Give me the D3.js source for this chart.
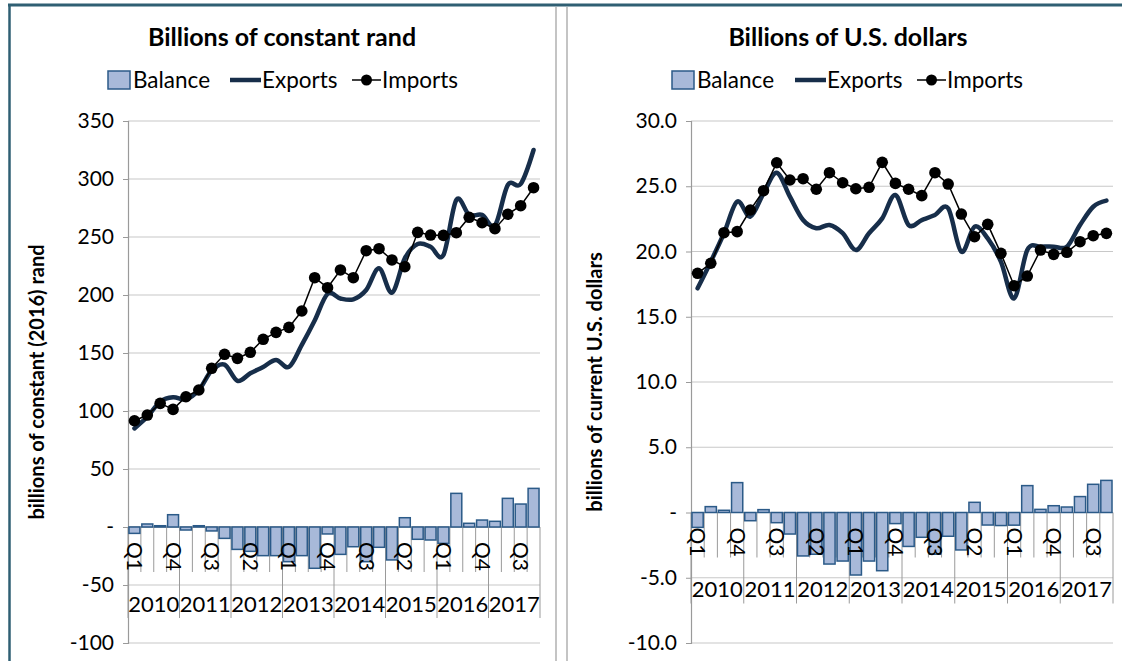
<!DOCTYPE html>
<html><head><meta charset="utf-8">
<script src="https://cdn.jsdelivr.net/npm/d3@7"></script>
<style>
body{margin:0;background:#fff}
svg{display:block}
text{font-family:Lato,"Open Sans",sans-serif;fill:#000}
</style>
</head><body>
<svg id="c" width="1122" height="661"></svg>
<script>
const quarters = ["Q1","Q2","Q3","Q4","Q1","Q2","Q3","Q4","Q1","Q2","Q3","Q4","Q1","Q2","Q3","Q4",
                  "Q1","Q2","Q3","Q4","Q1","Q2","Q3","Q4","Q1","Q2","Q3","Q4","Q1","Q2","Q3","Q4"];
const years = ["2010","2011","2012","2013","2014","2015","2016","2017"];

const randImports = [91.6,96.5,106.6,101.4,112.3,118.1,136.8,148.9,145.4,150.6,161.8,167.8,172.1,186.2,214.9,206.3,
                     221.6,214.9,238.2,239.9,230.2,224.4,254.0,251.7,251.4,253.7,267.0,262.3,257.2,269.6,277.0,292.5];
const randExports = [85,95,108,111.8,110,118,135,140,126,132.5,138,144,138,157,178,201,
                     197,196.3,204.3,223,202,231.6,244,241.6,234.5,281.9,269,269,260,294.8,295.7,325];
const randBalance = [-5.5,2.6,1.1,10.6,-2.6,1.1,-3.4,-9.8,-19.3,-21,-24.7,-24.7,-29.9,-24.7,-35.6,-6.0,
                     -23.6,-17.0,-29.9,-17.5,-28.4,8.0,-10.6,-11.2,-14.1,29.0,3.2,6.0,4.9,24.7,19.8,33.3];
const randTicks = [350,300,250,200,150,100,50,0,-50,-100];

const usdImports = [18.33,19.1,21.44,21.52,23.18,24.66,26.8,25.48,25.58,24.77,26.04,25.27,24.81,24.92,26.83,25.22,
                    24.77,24.28,26.04,25.17,22.87,21.13,22.08,19.86,17.38,18.12,20.11,19.78,19.94,20.75,21.21,21.39];
const usdExports = [17.18,19.22,21.4,23.82,22.67,24.46,26.04,24.2,22.41,21.78,22.03,21.4,20.11,21.4,22.54,24.33,
                    22.03,22.41,22.8,23.31,19.98,21.9,21.0,19.22,16.41,20.11,20.37,20.37,20.37,22.03,23.43,23.9];
const usdBalance = [-1.14,0.45,0.17,2.29,-0.63,0.22,-0.78,-1.65,-3.33,-3.2,-3.95,-3.72,-4.79,-3.72,-4.46,-0.85,
                    -2.6,-1.9,-3.2,-1.82,-2.87,0.78,-0.96,-1.0,-0.97,2.06,0.24,0.52,0.42,1.22,2.16,2.46];
const usdTicks = [30,25,20,15,10,5,0,-5,-10];

const titles = ["Billions of constant rand","Billions of U.S. dollars"];
const yTitles = ["billions of constant (2016) rand","billions of current U.S. dollars"];
const legendLabels = ["Balance","Exports","Imports"];

const BAR_FILL = "#a8b9d9", BAR_STROKE = "#2b5a88", EXP = "#172e4a", GRID = "#c8c8c8", AXIS = "#9a9a9a";

const svg = d3.select("#c");

// frame
svg.append("line").attr("x1",8).attr("x2",1122).attr("y1",5).attr("y2",5).attr("stroke","#2f5f73").attr("stroke-width",3);
svg.append("line").attr("x1",9.5).attr("x2",9.5).attr("y1",4).attr("y2",661).attr("stroke","#2f5f73").attr("stroke-width",2.5);
svg.append("line").attr("x1",556).attr("x2",556).attr("y1",7).attr("y2",661).attr("stroke","#b0b0b0").attr("stroke-width",1.5);
svg.append("line").attr("x1",567).attr("x2",567).attr("y1",7).attr("y2",661).attr("stroke","#b0b0b0").attr("stroke-width",1.5);

function chart(cfg){
  const g = svg.append("g");
  const n = cfg.imports.length;
  const x = d3.scaleBand().domain(d3.range(n)).range([cfg.x0,cfg.x1]).paddingInner(0.15).paddingOuter(0.075);
  const y = d3.scaleLinear().domain(cfg.domain).range([cfg.y1,cfg.y0]);
  const step = x.step();
  const zy = y(0);
  const cx = i => x(i) + x.bandwidth()/2;

  // gridlines
  g.append("g").selectAll("line").data(cfg.ticks).join("line")
    .attr("x1",cfg.x0).attr("x2",cfg.x1).attr("y1",d=>y(d)).attr("y2",d=>y(d))
    .attr("stroke",GRID).attr("stroke-width",1.2);

  // y axis
  const ya = d3.axisLeft(y).tickValues(cfg.ticks).tickSize(5).tickPadding(9)
    .tickFormat(d => d === 0 ? "-" : cfg.fmt(d).replace("\u2212","-"));
  const yg = g.append("g").attr("transform",`translate(${cfg.x0},0)`).call(ya);
  yg.select(".domain").attr("stroke",AXIS).attr("stroke-width",1.2);
  yg.selectAll(".tick line").attr("stroke",AXIS);
  yg.selectAll(".tick text").attr("font-size",21).attr("font-family","Lato");

  // category axis separators
  const qb = d3.range(n+1);
  g.append("g").selectAll("line").data(qb).join("line")
    .attr("x1",i=>cfg.x0+step*i).attr("x2",i=>cfg.x0+step*i)
    .attr("y1",zy).attr("y2",i=> i%4===0 ? zy+91 : zy+45)
    .attr("stroke",AXIS).attr("stroke-width",1);
  g.append("line").attr("x1",cfg.x0).attr("x2",cfg.x1).attr("y1",zy).attr("y2",zy)
    .attr("stroke",AXIS).attr("stroke-width",1.2);

  // bars
  g.append("g").selectAll("rect").data(cfg.balance).join("rect")
    .attr("x",(d,i)=>x(i)).attr("width",x.bandwidth())
    .attr("y",d=>Math.min(y(d),zy)).attr("height",d=>Math.abs(y(d)-zy))
    .attr("fill",BAR_FILL).attr("stroke",BAR_STROKE).attr("stroke-width",1.5);

  // quarter labels
  g.append("g").selectAll("text").data(quarters.map((q,i)=>({q,i})).filter(d=>d.i%3===0)).join("text")
    .attr("transform",d=>`translate(${cx(d.i)},${zy+44}) rotate(90)`)
    .attr("text-anchor","end").attr("dy","0.36em").attr("font-size",21).text(d=>d.q);

  // year labels
  g.append("g").selectAll("text").data(years).join("text")
    .attr("x",(d,k)=>cfg.x0+step*(4*k+2)).attr("y",zy+77).attr("dy","0.36em")
    .attr("text-anchor","middle").attr("font-size",22).text(d=>d);

  // exports line
  const lineE = d3.line().x((d,i)=>cx(i)).y(d=>y(d)).curve(d3.curveCardinal.tension(0));
  g.append("path").datum(cfg.exports).attr("d",lineE).attr("fill","none")
    .attr("stroke",EXP).attr("stroke-width",4.5).attr("stroke-linejoin","round").attr("stroke-linecap","round");

  // imports line + markers
  const lineI = d3.line().x((d,i)=>cx(i)).y(d=>y(d));
  g.append("path").datum(cfg.imports).attr("d",lineI).attr("fill","none").attr("stroke","#000").attr("stroke-width",1.5);
  g.append("g").selectAll("circle").data(cfg.imports).join("circle")
    .attr("cx",(d,i)=>cx(i)).attr("cy",d=>y(d)).attr("r",5.8).attr("fill","#000");

  // titles
  g.append("text").attr("x",cfg.titleX).attr("y",46).attr("text-anchor","middle")
    .attr("font-size",25).attr("font-weight","bold").text(cfg.title);
  g.append("text").attr("transform",`translate(${cfg.yTitleX},${(cfg.y0+cfg.y1)/2}) rotate(-90)`)
    .attr("text-anchor","middle").attr("font-size",20).attr("font-weight","bold").text(cfg.yTitle);

  // legend
  const L = cfg.legend;
  const lg = g.append("g").attr("font-size",22.5);
  lg.append("rect").attr("x",L[0]).attr("y",71).attr("width",22).attr("height",18)
    .attr("fill",BAR_FILL).attr("stroke",BAR_STROKE).attr("stroke-width",1.5);
  lg.append("text").attr("x",L[0]+25).attr("y",80).attr("dy","0.36em").text(legendLabels[0]);
  lg.append("line").attr("x1",L[1]).attr("x2",L[1]+31).attr("y1",80).attr("y2",80)
    .attr("stroke",EXP).attr("stroke-width",4.5);
  lg.append("text").attr("x",L[1]+32).attr("y",80).attr("dy","0.36em").text(legendLabels[1]);
  lg.append("line").attr("x1",L[2]).attr("x2",L[2]+29).attr("y1",80).attr("y2",80)
    .attr("stroke","#000").attr("stroke-width",1.5);
  lg.append("circle").attr("cx",L[2]+14.5).attr("cy",80).attr("r",5.5).attr("fill","#000");
  lg.append("text").attr("x",L[2]+30).attr("y",80).attr("dy","0.36em").text(legendLabels[2]);
}

chart({x0:128,x1:540,y0:121,y1:643,domain:[-100,350],ticks:randTicks,fmt:d3.format("d"),
  imports:randImports,exports:randExports,balance:randBalance,
  title:titles[0],titleX:282,yTitle:yTitles[0],yTitleX:44,legend:[108,230,352]});
chart({x0:691,x1:1113,y0:121,y1:643,domain:[-10,30],ticks:usdTicks,fmt:d3.format(".1f"),
  imports:usdImports,exports:usdExports,balance:usdBalance,
  title:titles[1],titleX:848,yTitle:yTitles[1],yTitleX:602,legend:[672,795,917]});
</script>
</body></html>
